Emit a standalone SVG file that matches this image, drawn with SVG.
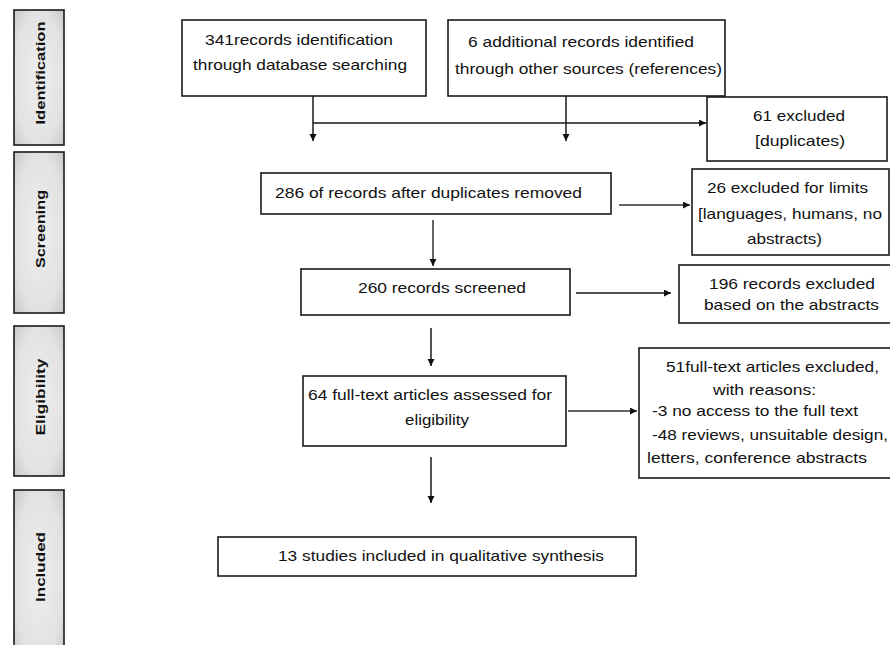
<svg xmlns="http://www.w3.org/2000/svg" width="890" height="645" viewBox="0 0 890 645">
<style>
.box{fill:#fff;stroke:#1a1a1a;stroke-width:1.6}
.side{fill:url(#g);stroke:#1a1a1a;stroke-width:1.6}
.t{font-family:"Liberation Sans",Arial,sans-serif;font-size:15px;fill:#111}
.s{font-family:"Liberation Sans",Arial,sans-serif;font-size:13px;font-weight:bold;fill:#111}
.c{fill:none;stroke:#1a1a1a;stroke-width:1.5}
.gc{fill:none;stroke:#666;stroke-width:2}
</style>
<defs>
<radialGradient id="g" cx="50%" cy="50%" r="70%">
<stop offset="0" stop-color="#eeeeee"/>
<stop offset="0.7" stop-color="#e2e2e2"/>
<stop offset="1" stop-color="#c8c8c8"/>
</radialGradient>
<marker id="a" markerUnits="userSpaceOnUse" markerWidth="8" markerHeight="8" refX="7" refY="3.5" orient="auto">
<path d="M0,0 L7,3.5 L0,7 z" fill="#111"/>
</marker>
</defs>

<g id="side-identification">
<rect class="side" x="14" y="10" width="50" height="135"/>
<text class="s" transform="translate(45,73) rotate(-90)" text-anchor="middle" textLength="103" lengthAdjust="spacingAndGlyphs">Identification</text>
</g>
<g id="side-screening">
<rect class="side" x="14" y="152" width="50" height="161"/>
<text class="s" transform="translate(45,229) rotate(-90)" text-anchor="middle" textLength="78" lengthAdjust="spacingAndGlyphs">Screening</text>
</g>
<g id="side-eligibility">
<rect class="side" x="14" y="326" width="50" height="150"/>
<text class="s" transform="translate(45,397) rotate(-90)" text-anchor="middle" textLength="77" lengthAdjust="spacingAndGlyphs">Eligibility</text>
</g>
<g id="side-included">
<rect class="side" x="14" y="490" width="50" height="170"/>
<text class="s" transform="translate(45,567) rotate(-90)" text-anchor="middle" textLength="70" lengthAdjust="spacingAndGlyphs">Included</text>
</g>

<g id="connectors">
<path class="c" d="M313 96 V141" marker-end="url(#a)"/>
<path class="c" d="M313 123 H706" marker-end="url(#a)"/>
<path class="c" d="M566 96 V141" marker-end="url(#a)"/>
<path class="gc" d="M619 205 H690" marker-end="url(#a)"/>
<path class="gc" d="M433 220 V266" marker-end="url(#a)"/>
<path class="c" d="M576 293 H671" marker-end="url(#a)"/>
<path class="c" d="M431 328 V366" marker-end="url(#a)"/>
<path class="gc" d="M568 411 H637" marker-end="url(#a)"/>
<path class="c" d="M431 457 V503" marker-end="url(#a)"/>
</g>

<g id="n-db">
<rect class="box" x="182" y="20" width="244" height="76"/>
<text class="t" x="205" y="45" textLength="188" lengthAdjust="spacingAndGlyphs">341records identification</text>
<text class="t" x="193" y="70" textLength="214" lengthAdjust="spacingAndGlyphs">through database searching</text>
</g>
<g id="n-other">
<rect class="box" x="448" y="20" width="277" height="76"/>
<text class="t" x="468" y="47" textLength="226" lengthAdjust="spacingAndGlyphs">6 additional records identified</text>
<text class="t" x="455" y="74" textLength="267" lengthAdjust="spacingAndGlyphs">through other sources (references)</text>
</g>
<g id="n-dup">
<rect class="box" x="707" y="97" width="180" height="64"/>
<text class="t" x="753" y="121" textLength="92" lengthAdjust="spacingAndGlyphs">61 excluded</text>
<text class="t" x="755" y="146" textLength="90" lengthAdjust="spacingAndGlyphs">[duplicates)</text>
</g>
<g id="n-286">
<rect class="box" x="261" y="173" width="350" height="41"/>
<text class="t" x="275" y="198" textLength="307" lengthAdjust="spacingAndGlyphs">286 of records after duplicates removed</text>
</g>
<g id="n-26">
<rect class="box" x="692" y="169" width="197" height="86"/>
<text class="t" x="707" y="193" textLength="161" lengthAdjust="spacingAndGlyphs">26 excluded for limits</text>
<text class="t" x="698" y="219" textLength="184" lengthAdjust="spacingAndGlyphs">[languages, humans, no</text>
<text class="t" x="747" y="244" textLength="75" lengthAdjust="spacingAndGlyphs">abstracts)</text>
</g>
<g id="n-260">
<rect class="box" x="301" y="269" width="269" height="46"/>
<text class="t" x="358" y="293" textLength="168" lengthAdjust="spacingAndGlyphs">260 records screened</text>
</g>
<g id="n-196">
<rect class="box" x="679" y="265" width="212" height="58"/>
<text class="t" x="709" y="289" textLength="166" lengthAdjust="spacingAndGlyphs">196 records excluded</text>
<text class="t" x="704" y="310" textLength="175" lengthAdjust="spacingAndGlyphs">based on the abstracts</text>
</g>
<g id="n-64">
<rect class="box" x="303" y="376" width="263" height="70"/>
<text class="t" x="308" y="400" textLength="244" lengthAdjust="spacingAndGlyphs">64 full-text articles assessed for</text>
<text class="t" x="405" y="425" textLength="64" lengthAdjust="spacingAndGlyphs">eligibility</text>
</g>
<g id="n-51">
<rect class="box" x="639" y="348" width="252" height="130"/>
<text class="t" x="666" y="372" textLength="213" lengthAdjust="spacingAndGlyphs">51full-text articles excluded,</text>
<text class="t" x="713" y="395" textLength="103" lengthAdjust="spacingAndGlyphs">with reasons:</text>
<text class="t" x="652" y="416" textLength="206" lengthAdjust="spacingAndGlyphs">-3 no access to the full text</text>
<text class="t" x="652" y="440" textLength="236" lengthAdjust="spacingAndGlyphs">-48 reviews, unsuitable design,</text>
<text class="t" x="647" y="463" textLength="220" lengthAdjust="spacingAndGlyphs">letters, conference abstracts</text>
</g>
<g id="n-13">
<rect class="box" x="218" y="537" width="418" height="39"/>
<text class="t" x="278" y="561" textLength="326" lengthAdjust="spacingAndGlyphs">13 studies included in qualitative synthesis</text>
</g>
</svg>
